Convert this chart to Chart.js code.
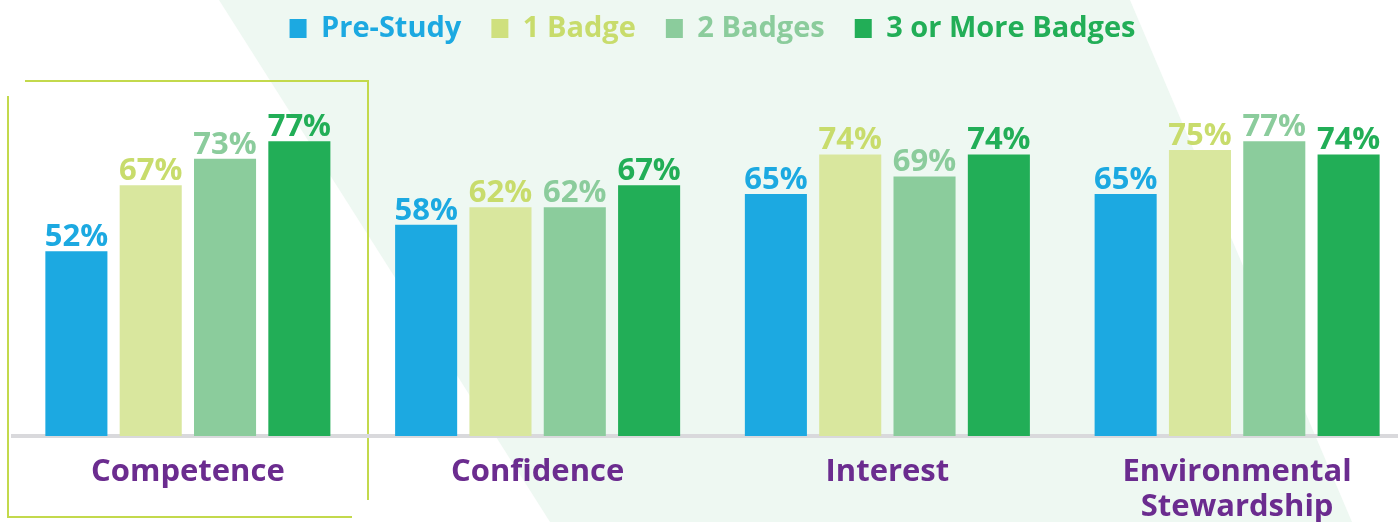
<!DOCTYPE html>
<html>
<head>
<meta charset="utf-8">
<script src="https://cdn.jsdelivr.net/npm/chart.js@4.4.1/dist/chart.umd.min.js"></script>
<style>
  html, body { margin: 0; padding: 0; background: #fff; overflow: hidden; }
  #wrap { width: 1412px; height: 522px; position: relative; }
</style>
</head>
<body>
<div id="wrap"><canvas id="chart"></canvas></div>
<script>
const categories = ["Competence", "Confidence", "Interest", ["Environmental", "Stewardship"]];
const seriesNames = ["Pre-Study", "1 Badge", "2 Badges", "3 or More Badges"];

const preStudy = [52, 58, 65, 65];
const oneBadge = [67, 62, 74, 75];
const twoBadges = [73, 62, 69, 77];
const threePlus = [77, 67, 74, 74];

const barColors = ["#1ca9e1", "#d9e79e", "#8bcc9c", "#22ae57"];
const textColors = ["#1ca9e1", "#c8dc6c", "#8bcc9c", "#22ae57"];
const legendBoxColors = ["#1ca9e1", "#cfe07e", "#8bcc9c", "#22ae57"];

const allSeries = [preStudy, oneBadge, twoBadges, threePlus];

const FONT = "'Open Sans', 'DejaVu Sans', sans-serif";

// background band + the framed box round the first group
const decor = {
  id: "decor",
  beforeDraw(chart) {
    const ctx = chart.ctx;
    ctx.save();
    ctx.fillStyle = "#fff";
    ctx.fillRect(0, 0, chart.width, chart.height);

    ctx.fillStyle = "#eef8f2";
    ctx.beginPath();
    ctx.moveTo(219, 0);
    ctx.lineTo(1130, 0);
    ctx.lineTo(1352, 522);
    ctx.lineTo(550, 522);
    ctx.closePath();
    ctx.fill();

    ctx.strokeStyle = "#c3d94c";
    ctx.lineWidth = 2;
    ctx.beginPath();
    ctx.moveTo(25, 81);
    ctx.lineTo(368, 81);
    ctx.lineTo(368, 500);
    ctx.moveTo(8, 96);
    ctx.lineTo(8, 517);
    ctx.lineTo(352, 517);
    ctx.stroke();
    ctx.restore();
  }
};

// value labels above the bars
const valueLabels = {
  id: "valueLabels",
  afterDatasetsDraw(chart) {
    const ctx = chart.ctx;
    ctx.save();
    ctx.font = "bold 31px " + FONT;
    ctx.textAlign = "center";
    ctx.textBaseline = "alphabetic";
    chart.data.datasets.forEach((ds, i) => {
      const meta = chart.getDatasetMeta(i);
      ctx.fillStyle = textColors[i];
      meta.data.forEach((bar, j) => {
        ctx.fillText(ds.data[j] + "%", bar.x, bar.y - 5);
      });
    });
    ctx.restore();
  }
};

new Chart(document.getElementById("chart"), {
  type: "bar",
  data: {
    labels: categories,
    datasets: allSeries.map((vals, i) => ({
      label: seriesNames[i],
      data: vals,
      backgroundColor: barColors[i],
      borderWidth: 0,
      categoryPercentage: 0.85,
      barPercentage: 0.835
    }))
  },
  options: {
    responsive: true,
    maintainAspectRatio: false,
    animation: false,
    layout: { padding: { top: -16, left: 13, right: 0, bottom: 0 } },
    plugins: {
      tooltip: { enabled: false },
      legend: {
        position: "top",
        labels: {
          boxWidth: 17,
          boxHeight: 19,
          padding: 30,
          font: { family: FONT, size: 29, weight: "bold" },
          generateLabels(chart) {
            return chart.data.datasets.map((ds, i) => ({
              text: ds.label,
              fillStyle: legendBoxColors[i],
              strokeStyle: legendBoxColors[i],
              lineWidth: 0,
              fontColor: textColors[i],
              hidden: false,
              datasetIndex: i
            }));
          }
        }
      }
    },
    scales: {
      x: {
        grid: { display: false, drawTicks: false },
        border: { display: true, color: "#d9d9dc", width: 4 },
        ticks: {
          color: "#6b2c8f",
          padding: 19,
          maxRotation: 0,
          autoSkip: false,
          font: { family: FONT, size: 31, weight: "bold", lineHeight: 1.13 }
        },
        afterFit(scale) { scale.height = 86; }
      },
      y: {
        display: false,
        min: 10,
        max: 97.05
      }
    }
  },
  plugins: [decor, valueLabels]
});
</script>
</body>
</html>
